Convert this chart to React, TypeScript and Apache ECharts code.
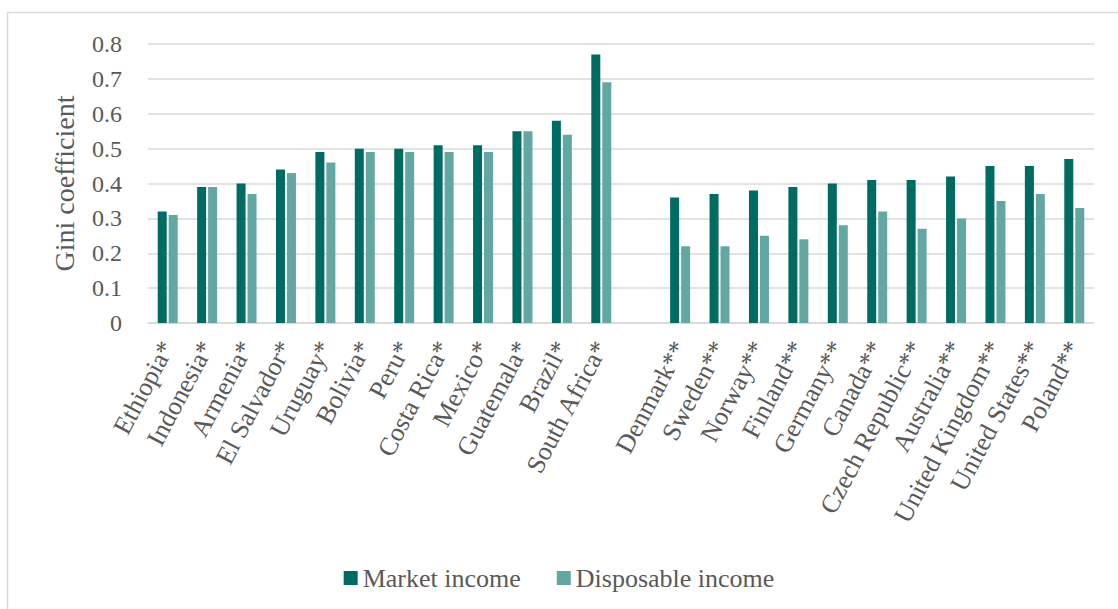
import React, { useEffect, useRef } from "react";
import * as echarts from "echarts";

const categories = [
  "Ethiopia*", "Indonesia*", "Armenia*", "El Salvador*", "Uruguay*", "Bolivia*", "Peru*",
  "Costa Rica*", "Mexico*", "Guatemala*", "Brazil*", "South Africa*", "",
  "Denmark**", "Sweden**", "Norway**", "Finland**", "Germany**", "Canada**",
  "Czech Republic**", "Australia**", "United Kingdom**", "United States**", "Poland**",
];
const marketIncome = [
  0.32, 0.39, 0.40, 0.44, 0.49, 0.50, 0.50, 0.51, 0.51, 0.55, 0.58, 0.77, null,
  0.36, 0.37, 0.38, 0.39, 0.40, 0.41, 0.41, 0.42, 0.45, 0.45, 0.47,
];
const disposableIncome = [
  0.31, 0.39, 0.37, 0.43, 0.46, 0.49, 0.49, 0.49, 0.49, 0.55, 0.54, 0.69, null,
  0.22, 0.22, 0.25, 0.24, 0.28, 0.32, 0.27, 0.30, 0.35, 0.37, 0.33,
];
const seriesNames = ["Market income", "Disposable income"];
const yMin = 0;
const yMax = 0.8;
const yInterval = 0.1;

const FONT = "Liberation Serif, Times New Roman, serif";
const TEXT = "#595959";

export default function App() {
  const ref = useRef<HTMLDivElement>(null);
  useEffect(() => {
    if (!ref.current) return;
    const chart = echarts.init(ref.current, undefined, { renderer: "svg" });
    chart.setOption({
      animation: false,
      backgroundColor: "#ffffff",
      textStyle: { fontFamily: FONT, color: TEXT },
      graphic: [
        {
          type: "rect",
          shape: { x: 7.5, y: 12.5, width: 1130, height: 620 },
          style: { fill: "none", stroke: "#d9d9d9", lineWidth: 1.5 },
          silent: true,
          z: -1,
        },
      ],
      grid: { left: 148, right: 24, top: 44, bottom: 286, containLabel: false },
      legend: {
        top: 560,
        left: "center",
        itemWidth: 14,
        itemHeight: 14,
        itemGap: 36,
        icon: "rect",
        textStyle: { fontFamily: FONT, fontSize: 26, color: TEXT },
        data: seriesNames,
      },
      xAxis: {
        type: "category",
        data: categories,
        axisTick: { show: false },
        axisLine: { lineStyle: { color: "#d9d9d9", width: 1.5 } },
        axisLabel: {
          interval: 0,
          rotate: 62,
          margin: 20,
          fontFamily: FONT,
          fontSize: 26,
          color: TEXT,
        },
      },
      yAxis: {
        type: "value",
        min: yMin,
        max: yMax,
        interval: yInterval,
        name: "Gini coefficient",
        nameLocation: "middle",
        nameGap: 70,
        nameTextStyle: { fontFamily: FONT, fontSize: 28, color: TEXT },
        axisLine: { show: false },
        axisTick: { show: false },
        axisLabel: {
          margin: 26,
          fontFamily: FONT,
          fontSize: 24,
          color: TEXT,
          formatter: (v: number) => (v === 0 ? "0" : String(Math.round(v * 10) / 10)),
        },
        splitLine: { lineStyle: { color: "#d9d9d9", width: 1.5 } },
      },
      series: [
        {
          name: seriesNames[0],
          type: "bar",
          data: marketIncome,
          barWidth: 9,
          barGap: "22%",
          itemStyle: { color: "#006B63" },
        },
        {
          name: seriesNames[1],
          type: "bar",
          data: disposableIncome,
          barWidth: 9,
          itemStyle: { color: "#63A7A2" },
        },
      ],
    });
    return () => chart.dispose();
  }, []);
  return (
    <div
      ref={ref}
      style={{ position: "fixed", left: 0, top: 0, width: 1118, height: 609 }}
    />
  );
}
